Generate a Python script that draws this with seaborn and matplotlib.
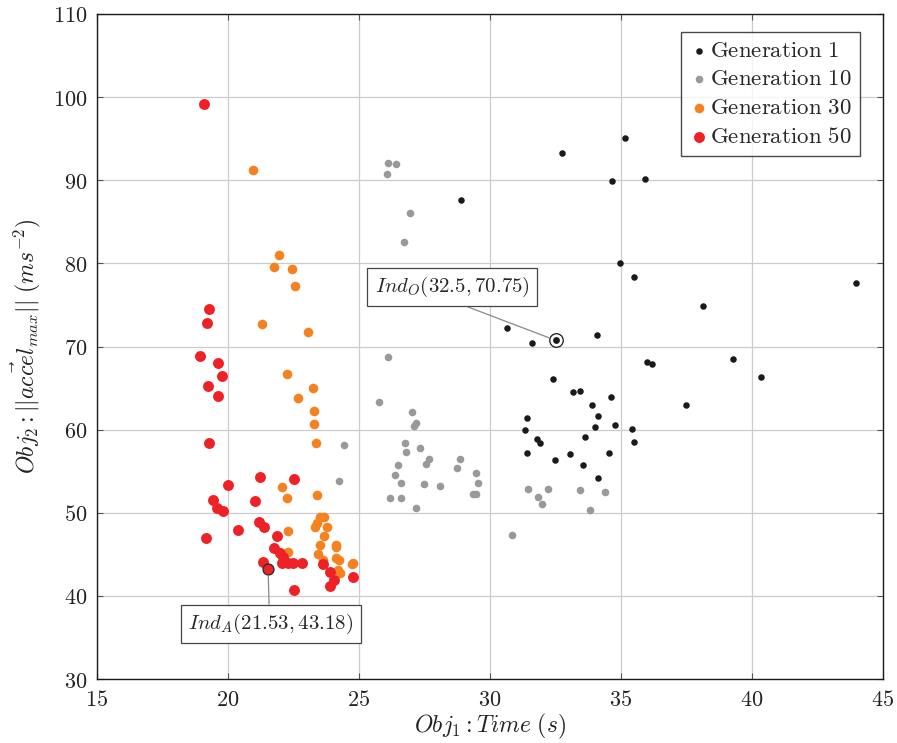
import numpy as np
import pandas as pd
import matplotlib
matplotlib.use("Agg")
import matplotlib.pyplot as plt
from matplotlib.ticker import FuncFormatter, MultipleLocator
import seaborn as sns

# ---------------- data ----------------
gen1_x = [32.74, 35.17, 28.9, 34.66, 35.9, 34.95, 35.51, 38.14, 43.98, 30.66,
          31.62, 32.5, 34.1, 35.98, 36.17, 39.26, 40.34, 32.39, 33.18, 33.44,
          34.62, 37.47, 33.91, 31.42, 34.12, 34.02, 34.76, 35.43, 31.32, 33.64,
          31.81, 31.92, 35.48, 31.41, 34.56, 33.04, 32.49, 33.55, 34.11]
gen1_y = [93.28, 95.1, 87.6, 89.95, 90.1, 80.05, 78.36, 74.9, 77.6, 72.26,
          70.46, 70.75, 71.4, 68.13, 67.89, 68.53, 66.33, 66.13, 64.56, 64.68,
          63.88, 62.96, 63.0, 61.44, 61.6, 60.35, 60.52, 60.11, 59.95, 59.11,
          58.91, 58.43, 58.51, 57.23, 57.19, 57.07, 56.39, 55.7, 54.14]

gen10_x = [26.1, 26.4, 26.06, 26.95, 26.71, 26.12, 25.78, 27.02, 27.16, 27.1,
           24.43, 26.74, 26.81, 27.34, 27.67, 27.57, 26.47, 26.39, 26.6, 27.47,
           28.1, 28.87, 28.74, 29.48, 29.55, 29.36, 29.47, 26.2, 26.59, 27.16,
           24.24, 30.85, 31.46, 31.84, 31.97, 32.2, 33.44, 34.4, 33.82]
gen10_y = [92.04, 91.96, 90.79, 86.1, 82.61, 68.74, 63.28, 62.12, 60.76, 60.47,
           58.15, 58.43, 57.27, 57.75, 56.43, 55.83, 55.7, 54.51, 53.62, 53.5,
           53.17, 56.43, 55.35, 54.78, 53.58, 52.22, 52.26, 51.78, 51.78, 50.53,
           53.78, 47.3, 52.8, 51.93, 51.05, 52.9, 52.77, 52.46, 50.33]

gen30_x = [20.95, 21.95, 21.77, 22.44, 22.54, 21.3, 23.04, 22.26, 23.26, 22.66,
           23.27, 23.3, 23.35, 22.05, 22.26, 23.39, 23.5, 23.66, 23.38, 23.32,
           23.76, 22.29, 23.65, 23.51, 24.12, 24.14, 22.3, 23.45, 23.61, 24.14,
           24.25, 24.79, 24.72, 24.21, 24.27]
gen30_y = [91.27, 81.05, 79.53, 79.28, 77.28, 72.67, 71.74, 66.66, 65.04, 63.77,
           62.24, 60.7, 58.39, 53.14, 51.74, 52.17, 49.53, 49.53, 48.73, 48.25,
           48.32, 47.8, 47.24, 46.16, 46.12, 45.91, 45.28, 45.04, 44.32, 44.52,
           44.32, 43.99, 43.83, 43.11, 42.71]

gen50_x = [19.1, 19.27, 19.21, 18.93, 19.63, 19.77, 19.25, 19.6, 19.27, 19.99,
           21.22, 22.5, 19.41, 21.02, 19.57, 19.82, 21.2, 21.37, 20.4, 19.15,
           21.86, 21.74, 21.35, 21.53, 21.98, 22.09, 22.05, 22.3, 22.49, 22.81,
           22.53, 23.63, 23.89, 24.05, 23.89, 24.76]
gen50_y = [99.2, 74.55, 72.86, 68.82, 67.98, 66.49, 65.21, 64.05, 58.43, 53.38,
           54.3, 54.02, 51.57, 51.41, 50.57, 50.17, 48.89, 48.25, 47.93, 47.0,
           47.17, 45.8, 44.11, 43.18, 45.12, 44.72, 43.92, 43.92, 43.92, 43.92,
           40.65, 43.8, 42.9, 41.9, 41.19, 42.24]

gen_labels = ["Generation 1", "Generation 10", "Generation 30", "Generation 50"]
ind_o = (32.5, 70.75)
ind_a = (21.53, 43.18)
ind_o_label = r"$Ind_O(32.5, 70.75)$"
ind_a_label = r"$Ind_A(21.53, 43.18)$"

# ---------------- style ----------------
sns.set_theme(style="white")
plt.rcParams["mathtext.fontset"] = "cm"
plt.rcParams["font.family"] = ["DejaVu Serif"]

colors = {gen_labels[0]: "#1a1a1a", gen_labels[1]: "#999999",
          gen_labels[2]: "#f5821f", gen_labels[3]: "#ee2127"}
sizes = {gen_labels[0]: 22, gen_labels[1]: 30, gen_labels[2]: 48, gen_labels[3]: 62}

df = pd.concat([
    pd.DataFrame({"x": gen1_x, "y": gen1_y, "gen": gen_labels[0]}),
    pd.DataFrame({"x": gen10_x, "y": gen10_y, "gen": gen_labels[1]}),
    pd.DataFrame({"x": gen30_x, "y": gen30_y, "gen": gen_labels[2]}),
    pd.DataFrame({"x": gen50_x, "y": gen50_y, "gen": gen_labels[3]}),
], ignore_index=True)

fig = plt.figure(figsize=(8.97, 7.43), dpi=100)
ax = fig.add_axes([97 / 897, 1 - 679 / 743, (883 - 97) / 897, (679 - 14) / 743])

for g in gen_labels:
    sub = df[df["gen"] == g]
    sns.scatterplot(data=sub, x="x", y="y", ax=ax, color=colors[g], s=sizes[g],
                    linewidth=0, label="$\\mathrm{" + g.replace(" ", "\\ ") + "}$",
                    zorder=3)

# highlighted individuals
ax.scatter([ind_o[0]], [ind_o[1]], s=95, facecolor="white", edgecolor="#1a1a1a",
           linewidth=0.9, zorder=4)
ax.scatter([ind_o[0]], [ind_o[1]], s=24, color="#1a1a1a", linewidth=0, zorder=5)
ax.scatter([ind_a[0]], [ind_a[1]], s=62, facecolor=colors[gen_labels[3]],
           edgecolor="#333333", linewidth=1.0, zorder=5)

bbox = dict(boxstyle="square,pad=0.35", fc="white", ec="#444444", lw=0.9)
ax.annotate(ind_o_label, xy=ind_o, xytext=(28.55, 77.15), textcoords="data",
            ha="center", va="center", fontsize=15, bbox=bbox, zorder=6,
            arrowprops=dict(arrowstyle="-", color="#888888", lw=0.9,
                            shrinkA=0, shrinkB=5, relpos=(0.47, 0.0)))
ax.annotate(ind_a_label, xy=ind_a, xytext=(21.64, 36.62), textcoords="data",
            ha="center", va="center", fontsize=15, bbox=bbox, zorder=6,
            arrowprops=dict(arrowstyle="-", color="#888888", lw=0.9,
                            shrinkA=0, shrinkB=5, relpos=(0.49, 1.0)))

ax.set_xlim(15, 45)
ax.set_ylim(30, 110)
ax.xaxis.set_major_locator(MultipleLocator(5))
ax.yaxis.set_major_locator(MultipleLocator(10))
fmt = FuncFormatter(lambda v, p: f"${v:g}$")
ax.xaxis.set_major_formatter(fmt)
ax.yaxis.set_major_formatter(fmt)
ax.tick_params(axis="both", which="major", labelsize=16, direction="in",
               length=4, width=0.8, color="#555555", top=True, right=True,
               bottom=True, left=True, pad=7, labelcolor="#222222")
ax.grid(True, color="#cccccc", lw=0.9)
ax.set_axisbelow(True)
for sp in ax.spines.values():
    sp.set_color("#1a1a1a")
    sp.set_linewidth(1.0)

ax.set_xlabel(r"$Obj_1 : Time\ (s)$", fontsize=17, color="#222222", labelpad=1)
ax.set_ylabel(r"$Obj_2 : ||\vec{accel}_{max}||\ (ms^{-2})$", fontsize=17,
              color="#222222", labelpad=6)

leg = ax.legend(loc="upper right", bbox_to_anchor=(0.979, 0.984), fontsize=16.5,
                frameon=True, fancybox=False, edgecolor="#1a1a1a",
                handletextpad=0.1, handlelength=0.8, borderpad=0.35,
                labelspacing=0.3, borderaxespad=0.3)
leg.get_frame().set_linewidth(1.0)

fig.savefig("out.png", dpi=100)
